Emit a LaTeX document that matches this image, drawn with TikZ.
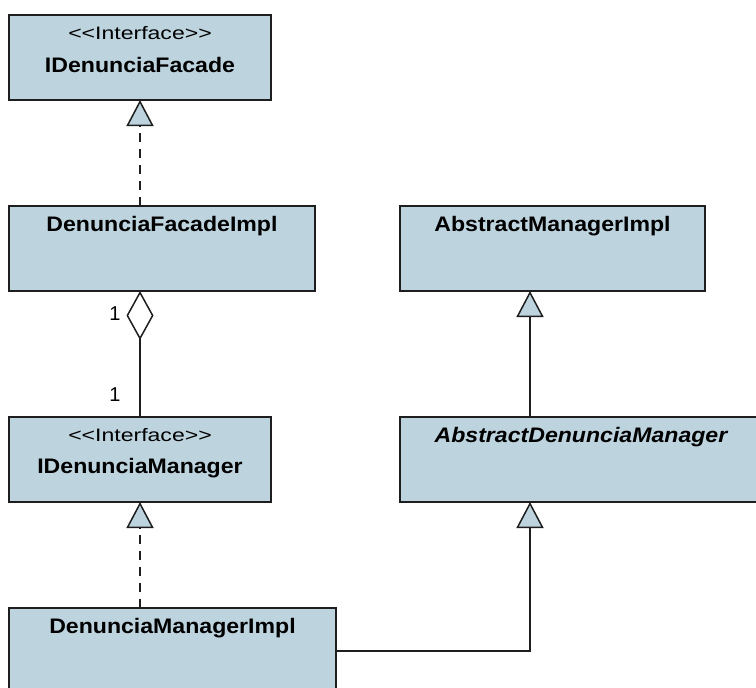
\documentclass[tikz,border=0pt]{standalone}
\usepackage{fontspec}
\setmainfont{Liberation Sans}
\usetikzlibrary{arrows.meta,calc}
\definecolor{classfill}{RGB}{189,211,222}
\definecolor{ink}{RGB}{30,30,30}
% horizontally stretched text, as the class labels are set wide
\newcommand{\hstretch}[2]{\scalebox{#1}[1]{#2}}
% stereotype text, with plain angle brackets (no guillemet ligature)
\newcommand{\stereotype}[1]{{<}{<}#1{>}{>}}
\begin{document}
\begin{tikzpicture}[x=1pt,y=-1pt,
  classbox/.style={draw=ink, line width=1.5pt, fill=classfill,
    minimum width=#1, minimum height=85pt, anchor=north west,
    inner sep=0pt, outer sep=0pt},
  classname/.style={anchor=base, inner sep=0pt,
    font=\fontsize{21}{24}\selectfont\bfseries},
  stereo/.style={anchor=base, inner sep=0pt,
    font=\fontsize{18}{21}\selectfont},
  mult/.style={inner sep=0pt, font=\fontsize{20}{23}\selectfont},
  conn/.style={draw=ink, line width=1.5pt},
  realize/.style={conn, dash pattern=on 9pt off 7pt,
    -{Triangle[length=26pt,width=27pt,fill=classfill,line width=1.5pt]}},
  inherit/.style={conn,
    -{Triangle[length=26pt,width=27pt,fill=classfill,line width=1.5pt]}},
  aggregate/.style={conn,
    {Diamond[length=49pt,width=27pt,fill=white,line width=1.5pt]}-},
]
\useasboundingbox (0,0) rectangle (756,688);
\clip (0,0) rectangle (756,688);
\fill[white] (0,0) rectangle (756,688);

% left column
\node[classbox=262pt] (b1) at (9,15) {};
\node[stereo]    (b1s) at ([yshift=-24pt]b1.north) {\hstretch{1.28}{\stereotype{Interface}}};
\node[classname] (b1n) at ([yshift=-57pt]b1.north) {\hstretch{1.1}{IDenunciaFacade}};

\node[classbox=306pt] (b2) at (9,206) {};
\node[classname] (b2n) at ([yshift=-25pt]b2.north) {\hstretch{1.1}{DenunciaFacadeImpl}};

\node[classbox=262pt] (b3) at (9,417) {};
\node[stereo]    (b3s) at ([yshift=-24pt]b3.north) {\hstretch{1.28}{\stereotype{Interface}}};
\node[classname] (b3n) at ([yshift=-56pt]b3.north) {\hstretch{1.1}{IDenunciaManager}};

\node[classbox=327pt, minimum height=90pt] (b6) at (9,608) {};
\node[classname] (b6n) at ([yshift=-25pt]b6.north) {\hstretch{1.1}{DenunciaManagerImpl}};

% right column
\node[classbox=305pt] (b4) at (400,206) {};
\node[classname] (b4n) at ([yshift=-25pt]b4.north) {\hstretch{1.1}{AbstractManagerImpl}};

\node[classbox=362pt] (b5) at (400,417) {};
\node[classname] (b5n) at ([yshift=-25pt]b5.north)
  {\hstretch{1.1}{\itshape AbstractDenunciaManager}};

\coordinate (rx) at (530,0);

% relations
\draw[realize] (b1.south |- b2.north) -- (b1.south);
\draw[aggregate] (b1.south |- b2.south) -- (b3.north);
\node[mult] (m1) at (115,314) {1};
\node[mult] (m2) at (115,395) {1};
\draw[realize] (b3.south |- b6.north) -- (b3.south);
\draw[inherit] (rx |- b5.north) -- (rx |- b4.south);
\draw[inherit] (b6.east |- 0,651) -| (rx |- b5.south);
\end{tikzpicture}
\end{document}
